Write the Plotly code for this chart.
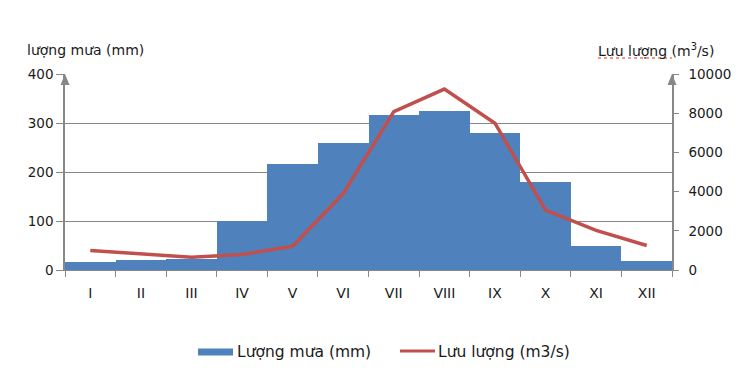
import plotly.graph_objects as go

months = ["I", "II", "III", "IV", "V", "VI", "VII", "VIII", "IX", "X", "XI", "XII"]
rain_mm = [17, 20, 23, 100, 217, 260, 316, 324, 279, 180, 49, 19]
flow_m3s = [1000, 820, 650, 790, 1210, 3900, 8080, 9230, 7490, 3050, 2020, 1250]
left_ticks = [0, 100, 200, 300, 400]
right_ticks = [0, 2000, 4000, 6000, 8000, 10000]
right_labels = ["0", "2000", "4000", "6000", "8000", "10000"]

# page body has an 8px margin; compensate so the picture lands like the reference
OFF = 8
W, H = 749 - OFF, 373 - OFF
L, R, T, B = 65, 672, 74, 270  # reference pixel positions of plot area
pw, ph = R - L, B - T


def px(x):
    return (x - L) / pw


def py(y):
    return (B - y) / ph


BLUE = "#4F81BD"
RED = "#C0504D"
GRAY = "#888888"
TXT = "#1a1a1a"
FONT = "DejaVu Sans"

fig = go.Figure()
fig.add_trace(go.Bar(x=months, y=rain_mm, name="Lượng mưa (mm)",
                     marker=dict(color=BLUE, line=dict(width=0)), yaxis="y"))
fig.add_trace(go.Scatter(x=months, y=flow_m3s, name="Lưu lượng (m3/s)", mode="lines",
                         line=dict(color=RED, width=3.5), yaxis="y2"))

shapes = []
for xa in (0, 1):
    shapes.append(dict(type="path", xref="paper", yref="paper",
                       xsizemode="pixel", ysizemode="pixel", xanchor=xa, yanchor=1,
                       path="M -4.5 -11 L 4.5 -11 L 0 0 Z",
                       fillcolor=GRAY, line=dict(width=0)))
shapes.append(dict(type="rect", xref="paper", yref="paper",
                   x0=px(198), x1=px(233), y0=py(355.5), y1=py(348.5),
                   fillcolor=BLUE, line=dict(width=0)))
shapes.append(dict(type="line", xref="paper", yref="paper",
                   x0=px(400), x1=px(435), y0=py(351), y1=py(351),
                   line=dict(color=RED, width=3)))
shapes.append(dict(type="line", xref="paper", yref="paper",
                   x0=px(598), x1=px(672), y0=py(58), y1=py(58),
                   line=dict(color="#E03030", width=1, dash="dot")))

annotations = [
    dict(text="lượng mưa (mm)", x=px(25), y=py(50), xref="paper", yref="paper",
         xanchor="left", yanchor="middle", showarrow=False,
         font=dict(family=FONT, size=14, color=TXT)),
    dict(text="Lưu lượng (m<sup>3</sup>/s)", x=px(596), y=py(50), xref="paper", yref="paper",
         xanchor="left", yanchor="middle", showarrow=False,
         font=dict(family=FONT, size=14, color=TXT)),
    dict(text="Lượng mưa (mm)", x=px(235), y=py(352), xref="paper", yref="paper",
         xanchor="left", yanchor="middle", showarrow=False,
         font=dict(family=FONT, size=15.5, color=TXT)),
    dict(text="Lưu lượng (m3/s)", x=px(436), y=py(352), xref="paper", yref="paper",
         xanchor="left", yanchor="middle", showarrow=False,
         font=dict(family=FONT, size=15.5, color=TXT)),
]

fig.update_layout(
    width=W, height=H,
    margin=dict(l=L - OFF, r=W - (R - OFF), t=T - OFF, b=H - (B - OFF), pad=0,
                autoexpand=False),
    paper_bgcolor="white", plot_bgcolor="white",
    showlegend=False, bargap=0,
    font=dict(family=FONT, size=13, color=TXT),
    xaxis=dict(type="category", tickson="boundaries", ticks="outside", ticklen=6,
               tickcolor=GRAY, showline=True, linecolor=GRAY, linewidth=1,
               showgrid=False, tickfont=dict(size=14, color=TXT),
               ticklabelstandoff=10, fixedrange=True),
    yaxis=dict(range=[0, 400], tickvals=left_ticks, ticks="outside", ticklen=7,
               tickcolor=GRAY, showline=True, linecolor=GRAY, linewidth=1.5,
               showgrid=True, gridcolor=GRAY, gridwidth=1, zeroline=False,
               tickfont=dict(size=13.5, color=TXT)),
    yaxis2=dict(range=[0, 10000], tickvals=right_ticks, ticktext=right_labels,
                overlaying="y", side="right",
                ticks="outside", ticklen=5, tickcolor=GRAY, showline=True,
                linecolor=GRAY, linewidth=1.5, showgrid=False, zeroline=False,
                tickfont=dict(size=13.5, color=TXT), ticklabelstandoff=7),
    shapes=shapes,
    annotations=annotations,
)

fig.write_html("out.html")
